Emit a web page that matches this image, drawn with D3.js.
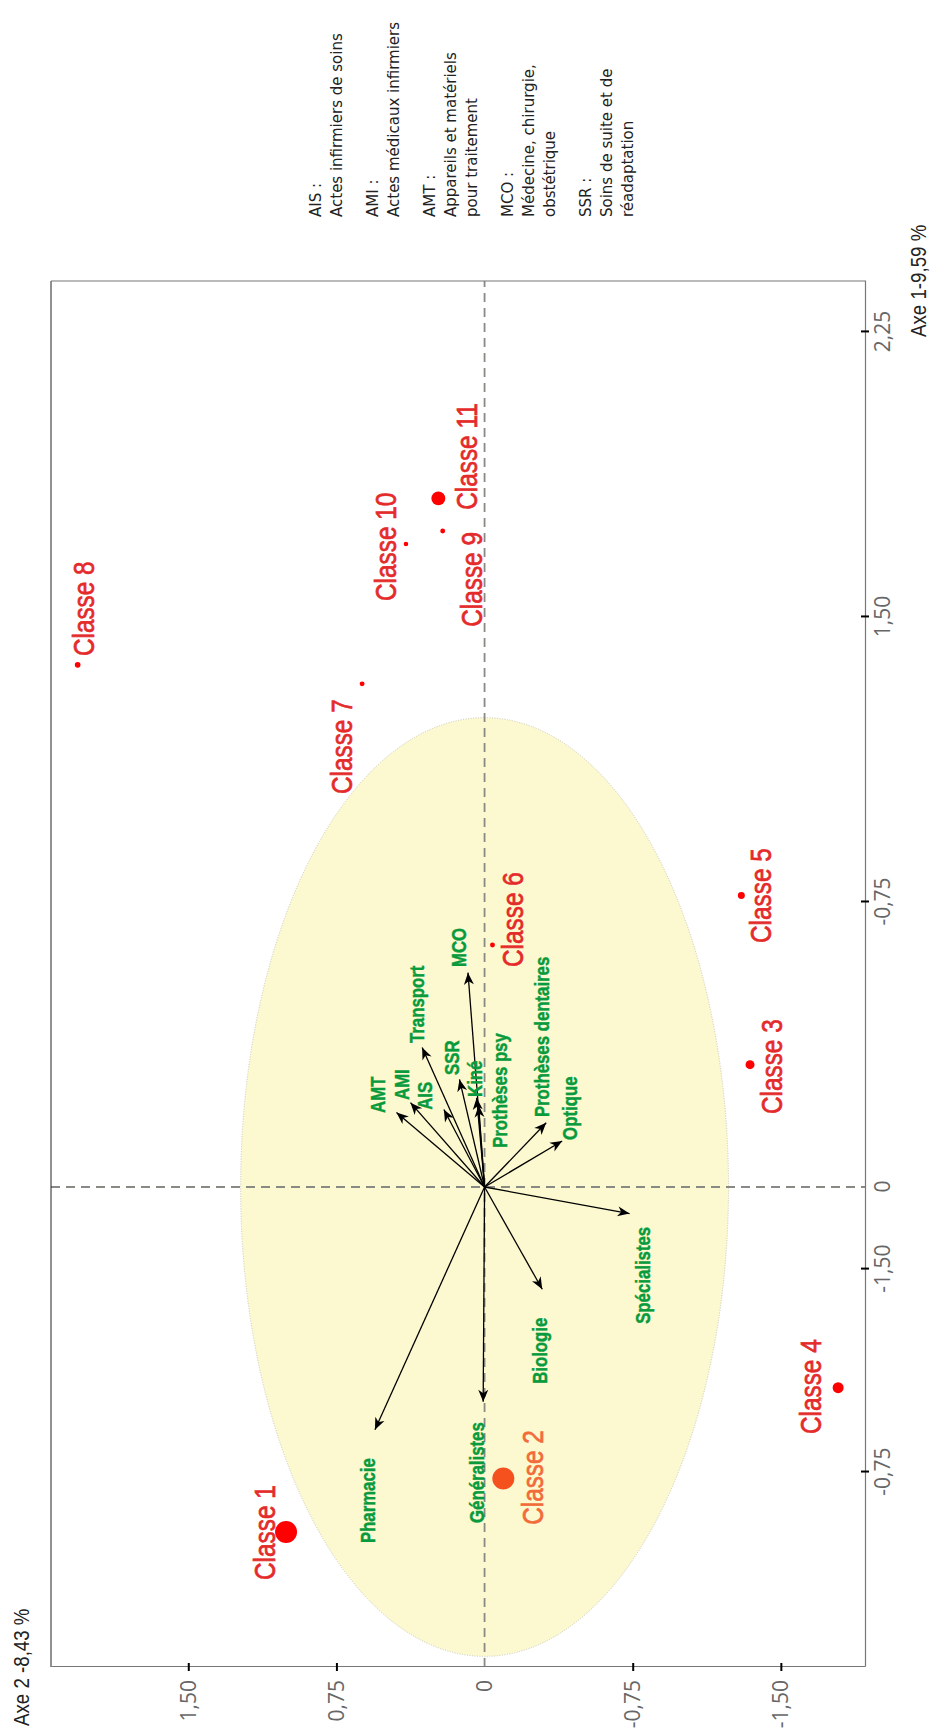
<!DOCTYPE html>
<html><head><meta charset="utf-8">
<script src="https://cdn.jsdelivr.net/npm/d3@7"></script>
<style>body{margin:0;background:#fff}svg{display:block}</style>
</head><body>
<script>
// ---------- DATA ----------
const classes = ["Classe 1","Classe 2","Classe 3","Classe 4","Classe 5","Classe 6","Classe 7","Classe 8","Classe 9","Classe 10","Classe 11"];
const classAxe1 = [-0.908,-0.767,0.322,-0.528,0.767,0.637,1.324,1.374,1.726,1.692,1.812];
const classAxe2 = [1.005,-0.095,-1.344,-1.79,-1.30,-0.04,0.62,2.06,0.212,0.398,0.234];
const classWeight = [30,30,5,7.5,3,1.5,1.5,2,1.5,1.3,12];

const variables = ["AMT","AMI","AIS","Transport","SSR","Kiné","MCO","Prothèses psy","Prothèses dentaires","Optique","Spécialistes","Biologie","Pharmacie","Généralistes"];
const varAxe1 = [0.196,0.222,0.204,0.367,0.283,0.235,0.564,0.215,0.169,0.121,-0.070,-0.269,-0.639,-0.565];
const varAxe2 = [0.446,0.375,0.206,0.316,0.127,0.04,0.084,0.03,-0.312,-0.393,-0.734,-0.292,0.555,0.007];

const axe1Ticks = [2.25,1.5,0.75,0,-0.216,-0.75];
const axe1TickLabels = ["2,25","1,50","-0,75","0","-1,50","-0,75"];
const axe2Ticks = [1.5,0.75,0,-0.75,-1.5];
const axe2TickLabels = ["1,50","0,75","0","-0,75","-1,50"];
const axe1Title = "Axe 1-9,59 %";
const axe2Title = "Axe 2 -8,43 %";
const circleRadius = 1.235;

const legendGroups = [
  ["AIS :","Actes infirmiers de soins"],
  ["AMI :","Actes médicaux infirmiers"],
  ["AMT :","Appareils et matériels","pour traitement"],
  ["MCO :","Médecine, chirurgie,","obstétrique"],
  ["SSR :","Soins de suite et de","réadaptation"]
];

// ---------- LAYOUT (label anchors in data units) ----------
const classLabelAt = [[-1.034,1.112],[-0.889,-0.246],[0.192,-1.455],[-0.65,-1.652],[0.642,-1.40],[0.579,-0.144],[1.034,0.72],[1.397,2.03],[1.474,0.065],[1.542,0.50],[1.782,0.091]];
const varLabelAt = [[0.195,0.54],[0.229,0.42],[0.203,0.302],[0.379,0.341],[0.295,0.167],[0.237,0.049],[0.579,0.13],[0.103,-0.078],[0.184,-0.289],[0.124,-0.432],[-0.36,-0.80],[-0.518,-0.283],[-0.937,0.59],[-0.884,0.038]];

// ---------- DRAW ----------
const W = 931, H = 1729;
const sans = '"Liberation Sans",Arial,sans-serif';
const svg = d3.select("body").append("svg").attr("width", W).attr("height", H);
// whole chart is drawn rotated: Axe 1 runs up the page, Axe 2 runs leftwards
const g = svg.append("g").attr("transform", `translate(0,${H}) rotate(-90)`);

const x = d3.scaleLinear().domain([-1.263, 2.384]).range([62, 1448]);   // Axe 1
const y = d3.scaleLinear().domain([2.195, -1.926]).range([51, 865]);    // Axe 2
const r = d3.scaleSqrt().domain([0, 30]).range([0, 11]);

// condensed look: squeeze glyphs horizontally
function condense(sel, f) {
  sel.each(function () {
    const len = this.getComputedTextLength();
    d3.select(this).attr("textLength", len * f).attr("lengthAdjust", "spacingAndGlyphs");
  });
}

const defs = svg.append("defs");
defs.append("marker").attr("id", "arr").attr("markerUnits", "userSpaceOnUse")
  .attr("viewBox", "-13 -6 14 12").attr("refX", 0).attr("refY", 0)
  .attr("markerWidth", 14).attr("markerHeight", 12).attr("orient", "auto")
  .append("path").attr("d", "M0,0 L-12,-5 L-8.5,0 L-12,5 Z").attr("fill", "#000");

// circle of correlations
g.append("ellipse").attr("cx", x(0)).attr("cy", y(0))
  .attr("rx", x(circleRadius) - x(0)).attr("ry", Math.abs(y(circleRadius) - y(0)))
  .attr("fill", "#fcf9d0").attr("stroke", "#c8c6b4").attr("stroke-width", 1).attr("stroke-dasharray", "1,1.5");

// dashed zero lines
g.append("line").attr("x1", x.range()[0]).attr("x2", x.range()[1]).attr("y1", y(0)).attr("y2", y(0))
  .attr("stroke", "#8a8a85").attr("stroke-width", 1.8).attr("stroke-dasharray", "9,6");
g.append("line").attr("x1", x(0)).attr("x2", x(0)).attr("y1", y.range()[0]).attr("y2", y.range()[1])
  .attr("stroke", "#8a8a85").attr("stroke-width", 1.8).attr("stroke-dasharray", "9,6");

// frame (left and top in picture)
g.append("line").attr("x1", x.range()[0]).attr("x2", x.range()[1]).attr("y1", y.range()[0]).attr("y2", y.range()[0])
  .attr("stroke", "#222").attr("stroke-width", 1);
g.append("line").attr("x1", x.range()[1]).attr("x2", x.range()[1]).attr("y1", y.range()[0]).attr("y2", y.range()[1])
  .attr("stroke", "#777").attr("stroke-width", 1.2);

// axes
const axis1 = g.append("g").attr("transform", `translate(0,${y.range()[1]})`)
  .call(d3.axisBottom(x).tickValues(axe1Ticks).tickFormat((d, i) => axe1TickLabels[i]).tickSize(0).tickPadding(10));
const axis2 = g.append("g").attr("transform", `translate(${x.range()[0]},0)`)
  .call(d3.axisLeft(y).tickValues(axe2Ticks).tickFormat((d, i) => axe2TickLabels[i]).tickSize(0).tickPadding(13));
[axis1, axis2].forEach(a => {
  a.select(".domain").attr("stroke", "#777").attr("stroke-width", 1.2);
  a.selectAll("text").attr("font-family", '"Open Sans",sans-serif').attr("font-size", 21).attr("fill", "#666");
  a.selectAll(".tick line").remove();
});
axis1.selectAll(".tick").filter(d => d !== 0).append("line")
  .attr("y1", -4).attr("y2", 4).attr("stroke", "#000").attr("stroke-width", 2);
axis2.selectAll(".tick").filter(d => d !== 0).append("line")
  .attr("x1", -4).attr("x2", 4).attr("stroke", "#000").attr("stroke-width", 2);

// axis titles
const titles = g.append("g").attr("font-family", sans).attr("font-size", 22).attr("fill", "#222");
titles.append("text").attr("x", 1392).attr("y", 918).attr("dominant-baseline", "central").text(axe1Title);
titles.append("text").attr("x", 3).attr("y", 21).attr("dominant-baseline", "central").text(axe2Title);
condense(titles.selectAll("text"), 0.85);

// variable arrows
g.selectAll("line.var").data(variables).join("line").attr("class", "var")
  .attr("x1", x(0)).attr("y1", y(0))
  .attr("x2", (d, i) => x(varAxe1[i])).attr("y2", (d, i) => y(varAxe2[i]))
  .attr("stroke", "#000").attr("stroke-width", 1.3).attr("marker-end", "url(#arr)");
const vt = g.selectAll("text.var").data(variables).join("text").attr("class", "var")
  .attr("x", (d, i) => x(varLabelAt[i][0])).attr("y", (d, i) => y(varLabelAt[i][1]))
  .attr("dominant-baseline", "central").attr("font-family", sans).attr("font-weight", "bold")
  .attr("font-size", 19.5).attr("fill", "#089a3c").attr("stroke", "#089a3c").attr("stroke-width", 0.45)
  .text(d => d);
condense(vt, 0.86);

// classes
g.selectAll("circle.cls").data(classes).join("circle").attr("class", "cls")
  .attr("cx", (d, i) => x(classAxe1[i])).attr("cy", (d, i) => y(classAxe2[i]))
  .attr("r", (d, i) => r(classWeight[i]))
  .attr("fill", (d, i) => i === 1 ? "#f4511e" : "#ff0000");
const ct = g.selectAll("text.cls").data(classes).join("text").attr("class", "cls")
  .attr("x", (d, i) => x(classLabelAt[i][0])).attr("y", (d, i) => y(classLabelAt[i][1]))
  .attr("dominant-baseline", "central").attr("font-family", sans)
  .attr("font-size", 29).attr("fill", (d, i) => i === 1 ? "#f26b3a" : "#e42a2a")
  .attr("stroke", (d, i) => i === 1 ? "#f26b3a" : "#e42a2a").attr("stroke-width", 0.7)
  .text(d => d);
condense(ct, 0.84);

// legend
let v = 316;
legendGroups.forEach((grp, gi) => {
  if (gi > 0) v += 15;
  grp.forEach((line, li) => {
    if (gi > 0 || li > 0) v += 21;
    g.append("text").attr("x", 1512).attr("y", v).attr("dominant-baseline", "central")
      .attr("font-family", '"DejaVu Sans",sans-serif').attr("font-size", 15).attr("fill", "#222").text(line);
  });
});
</script>
</body></html>
